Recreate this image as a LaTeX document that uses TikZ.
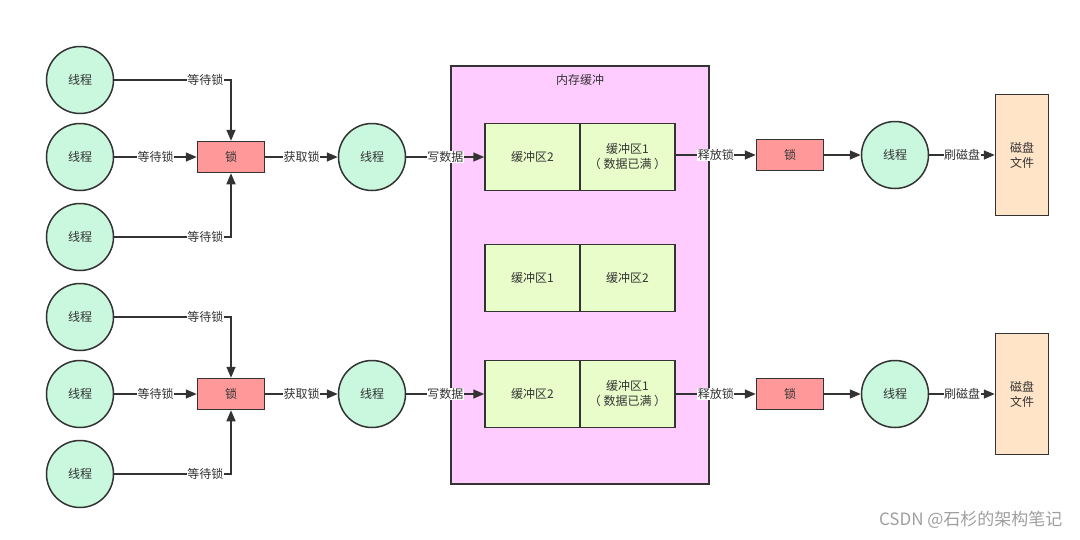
\documentclass[tikz,border=0pt]{standalone}
\usepackage{fontspec}
\setmainfont{Noto Sans CJK SC}
\usetikzlibrary{arrows.meta}
\definecolor{stroke}{HTML}{333333}
\definecolor{thr}{HTML}{C9F8DE}
\definecolor{lck}{HTML}{FF9999}
\definecolor{buf}{HTML}{E8FDC9}
\definecolor{mem}{HTML}{FFCCFF}
\definecolor{dsk}{HTML}{FFE4C8}
\tikzset{
  x=1pt,y=-1pt,
  base/.style={draw=stroke,line width=1.5pt,text=stroke,font=\fontsize{12}{15}\selectfont,inner sep=0pt,align=center},
  thread/.style={base,circle,fill=thr,minimum size=67pt},
  lockbox/.style={base,rectangle,fill=lck,minimum width=67pt,minimum height=31pt},
  bufcell/.style={base,rectangle,fill=buf,minimum width=95pt,minimum height=67pt},
  membox/.style={base,rectangle,fill=mem,minimum width=258pt,minimum height=418pt},
  disk/.style={base,rectangle,fill=dsk,minimum width=53pt,minimum height=121pt},
  arr/.style={draw=stroke,line width=1.5pt,-{Triangle[length=11pt,width=9pt]}},
  lbl/.style={fill=white,text=stroke,font=\fontsize{12}{14}\selectfont,inner sep=0.5pt},
}
\begin{document}
\begin{tikzpicture}
\useasboundingbox[fill=white] (0,0) rectangle (1080,539);
% memory buffer
\node[membox] (mem) at (580,275) {};
\node[text=stroke,font=\fontsize{12}{14}\selectfont] (memt) at (580,80) {内存缓冲};
\foreach \g/\y in {a/157,b/394}{
  \node[thread] (\g t1) at (80,\y-77) {线程};
  \node[thread] (\g t2) at (80,\y) {线程};
  \node[thread] (\g t3) at (80,\y+80) {线程};
  \node[lockbox] (\g l) at (231,\y) {锁};
  \node[thread] (\g w) at (372,\y) {线程};
  \draw[arr] (\g t1) -| node[lbl,pos=0.39] {等待锁} (\g l);
  \draw[arr] (\g t2) -- node[lbl] {等待锁} (\g l);
  \draw[arr] (\g t3) -| node[lbl,pos=0.39] {等待锁} (\g l);
  \draw[arr] (\g l) -- node[lbl] {获取锁} (\g w);
}
% buffer rows
\node[bufcell] (ab2) at (532.5,157) {缓冲区2};
\node[bufcell] (ab1) at (627.5,157) {缓冲区1\\（ 数据已满 ）};
\node[bufcell] (mb1) at (532.5,278) {缓冲区1};
\node[bufcell] (mb2) at (627.5,278) {缓冲区2};
\node[bufcell] (bb2) at (532.5,394) {缓冲区2};
\node[bufcell] (bb1) at (627.5,394) {缓冲区1\\（ 数据已满 ）};
\draw[arr] (aw) -- node[lbl] {写数据} (ab2);
\draw[arr] (bw) -- node[lbl] {写数据} (bb2);
% right side
\node[lockbox] (arl) at (790,155) {锁};
\node[thread] (art) at (895,155) {线程};
\node[disk] (ad) at (1022,155) {磁盘\\文件};
\node[lockbox] (brl) at (790,394) {锁};
\node[thread] (brt) at (895,394) {线程};
\node[disk] (bd) at (1022,394) {磁盘\\文件};
\draw[arr] (ab1.east |- arl) -- node[lbl] {释放锁} (arl);
\draw[arr] (bb1.east |- brl) -- node[lbl] {释放锁} (brl);
\draw[arr] (arl) -- (art);
\draw[arr] (brl) -- (brt);
\draw[arr] (art) -- node[lbl] {刷磁盘} (ad);
\draw[arr] (brt) -- node[lbl] {刷磁盘} (bd);
% watermark
\node[text=gray!75,font=\fontsize{17}{19}\selectfont,anchor=east] (wm) at (1066,520) {CSDN @石杉的架构笔记};
\end{tikzpicture}
\end{document}
